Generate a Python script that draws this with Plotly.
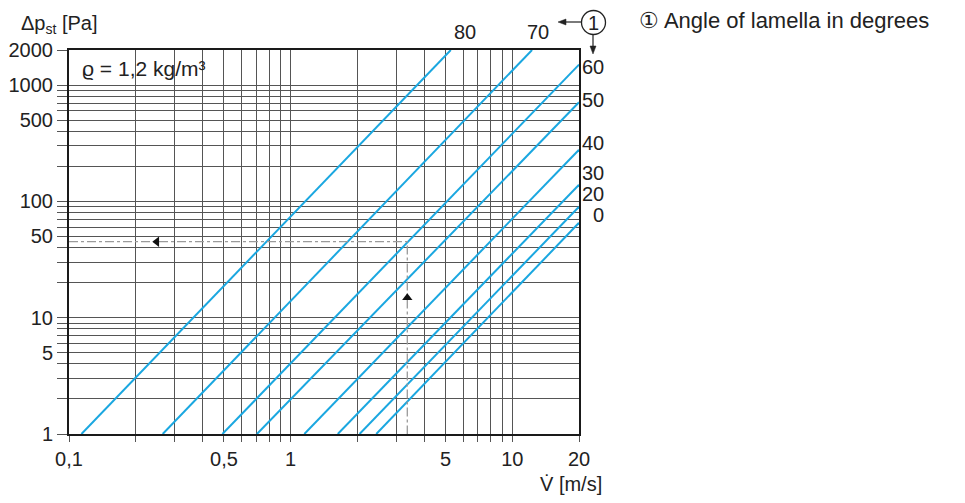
import plotly.graph_objects as go

# ---- data ----
angles = ["80", "70", "60", "50", "40", "30", "20", "0"]
v_start = [0.1138, 0.2647, 0.4923, 0.7047, 1.153, 1.632, 2.046, 2.434]   # at dp = 1 Pa
dp_start = [1, 1, 1, 1, 1, 1, 1, 1]
v_end = [5.28, 12.28, 20, 20, 20, 20, 20, 20]
dp_end = [2000, 2000, 1498, 710, 278, 139, 89.9, 65.4]

example_v = 3.36
example_dp = 45
arrow_left_v = 0.249
arrow_up_dp = 14.8

x_grid = [0.1, 0.2, 0.3, 0.4, 0.5, 0.6, 0.7, 0.8, 0.9, 1, 2, 3, 4, 5, 6, 7, 8, 9, 10, 20]
x_labels = {0.1: "0,1", 0.5: "0,5", 1: "1", 5: "5", 10: "10", 20: "20"}
y_grid = [1, 2, 3, 4, 5, 6, 7, 8, 9, 10, 20, 30, 40, 50, 60, 70, 80, 90,
          100, 200, 300, 400, 500, 600, 700, 800, 900, 1000, 2000]
y_labels = {1: "1", 5: "5", 10: "10", 50: "50", 100: "100", 500: "500", 1000: "1000", 2000: "2000"}

# ---- layout helpers (screen pixel -> paper); page body has an 8px margin ----
OFF = 8
W, H = 965 - 2 * OFF, 503 - 2 * OFF
L, R, T, B = 69, 579, 50, 434   # plot area in screen pixels


def px(x):
    return (x - L) / (R - L)


def py(y):
    return (B - y) / (B - T)


FONT = "Liberation Sans, Arial, sans-serif"
BLUE = "#1aa7e0"
TXT = "#222222"
FS = 20

fig = go.Figure()

for i in range(len(angles)):
    fig.add_trace(go.Scatter(
        x=[v_start[i], v_end[i]], y=[dp_start[i], dp_end[i]],
        mode="lines", line=dict(color=BLUE, width=2),
        name=angles[i], showlegend=False, hoverinfo="skip"))

# example reading guide
fig.add_trace(go.Scatter(
    x=[x_grid[0], example_v, example_v], y=[example_dp, example_dp, y_grid[0]],
    mode="lines", line=dict(color="#9a9a9a", width=1.3, dash="dashdot"),
    showlegend=False, hoverinfo="skip"))
fig.add_trace(go.Scatter(
    x=[arrow_left_v], y=[example_dp], mode="markers",
    marker=dict(symbol="triangle-left", size=9, color="#111"),
    showlegend=False, hoverinfo="skip"))
fig.add_trace(go.Scatter(
    x=[example_v], y=[arrow_up_dp], mode="markers",
    marker=dict(symbol="triangle-up", size=9, color="#111"),
    showlegend=False, hoverinfo="skip"))

fig.update_xaxes(
    type="log", range=[-1, 1.30103], automargin=False,
    tickmode="array", tickvals=x_grid,
    ticktext=[x_labels.get(v, "") for v in x_grid],
    showgrid=True, gridcolor="#555555", gridwidth=1,
    ticks="outside", ticklen=6, tickcolor="#555555", tickwidth=1,
    showline=True, mirror=True, linecolor="#1a1a1a", linewidth=2,
    tickfont=dict(family=FONT, size=FS, color=TXT), zeroline=False)
fig.update_yaxes(
    type="log", range=[0, 3.30103], automargin=False,
    tickmode="array", tickvals=y_grid,
    ticktext=[y_labels.get(v, "") for v in y_grid],
    showgrid=True, gridcolor="#555555", gridwidth=1,
    ticks="outside", ticklen=10, tickcolor="#555555", tickwidth=1,
    showline=True, mirror=True, linecolor="#1a1a1a", linewidth=2,
    tickfont=dict(family=FONT, size=FS, color=TXT), zeroline=False)

ann = []
ann.append(dict(x=px(19), y=py(24), text="Δp<sub>st</sub> [Pa]", xanchor="left", yanchor="middle",
                showarrow=False, font=dict(family=FONT, size=FS, color=TXT)))
ann.append(dict(x=px(604), y=py(484), text="V\u0307 [m/s]", xanchor="right", yanchor="middle",
                showarrow=False, font=dict(family=FONT, size=FS, color=TXT)))
ann.append(dict(x=px(80), y=py(69), text="ϱ = 1,2 kg/m³", xanchor="left", yanchor="middle",
                showarrow=False, font=dict(family=FONT, size=21, color=TXT)))
label_pos = {"80": (465, 32, "center"), "70": (538, 32, "center"),
             "60": (606, 67, "right"), "50": (606, 100, "right"), "40": (606, 143, "right"),
             "30": (606, 173, "right"), "20": (606, 193.5, "right"), "0": (606, 215, "right")}
for a in angles:
    x, y, anc = label_pos[a]
    ann.append(dict(x=px(x), y=py(y), text=a, xanchor=anc, yanchor="middle",
                    showarrow=False, font=dict(family=FONT, size=FS, color=TXT)))
ann.append(dict(x=px(593.5), y=py(22.5), text="1", xanchor="center", yanchor="middle",
                showarrow=False, font=dict(family=FONT, size=20, color=TXT)))
ann.append(dict(x=px(637), y=py(20), text="\u2460 Angle of lamella in degrees", xanchor="left",
                yanchor="middle", showarrow=False,
                font=dict(family="Liberation Sans, Arial, sans-serif", size=22, color=TXT)))
for a in ann:
    a["xref"] = "paper"
    a["yref"] = "paper"


def pline(x0, y0, x1, y1):
    return dict(type="line", xref="paper", yref="paper",
                x0=px(x0), y0=py(y0), x1=px(x1), y1=py(y1),
                line=dict(color="#222", width=1.2))


def ptri(pts):
    path = "M " + " L ".join(f"{px(a)},{py(b)}" for a, b in pts) + " Z"
    return dict(type="path", xref="paper", yref="paper", path=path,
                fillcolor="#222", line=dict(color="#222", width=0.5))


shapes = [
    dict(type="circle", xref="paper", yref="paper",
         x0=px(581.5), x1=px(605.5), y0=py(34.5), y1=py(10.5),
         line=dict(color="#222", width=1.3)),
    pline(581, 22, 565, 22),
    ptri([(558, 22), (566, 19), (566, 25)]),
    pline(593, 34.5, 593, 47),
    ptri([(593, 54), (590, 46), (596, 46)]),
]

fig.update_layout(
    template="none",
    width=W, height=H,
    margin=dict(l=L - OFF, r=W - (R - OFF), t=T - OFF, b=H - (B - OFF), pad=0, autoexpand=False),
    paper_bgcolor="white", plot_bgcolor="white",
    annotations=ann, shapes=shapes,
    showlegend=False,
)

fig.write_html("out.html")
